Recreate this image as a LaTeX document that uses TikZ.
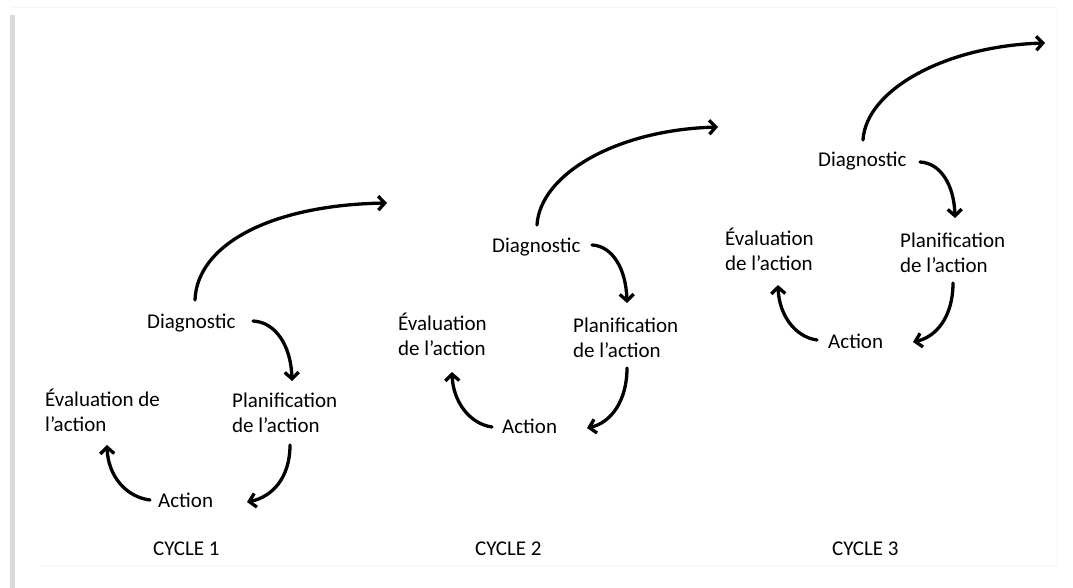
\documentclass[tikz,border=0pt]{standalone}
\usepackage{fontspec}
\setmainfont{Carlito}
\usetikzlibrary{arrows.meta}
\begin{document}
\begin{tikzpicture}[x=1pt,y=-1pt,
  lbl/.style={inner sep=0pt, anchor=base west, font=\fontsize{21}{25.5}\selectfont, align=left},
  arr/.style={line width=3.3pt, line cap=round, -{Straight Barb[length=6.5pt,width=14pt]}}]
\useasboundingbox (0,0) rectangle (1073,588);
\fill[white] (0,0) rectangle (1073,588);
% page shadow
\fill[gray!30] (10,15) rectangle (15,588);
\draw[gray!8, line width=1pt] (12,8) -- (1057,8);
\draw[gray!8, line width=1pt] (1057,8) -- (1057,565);
\draw[gray!6, line width=1pt] (40,565) -- (1057,565);
% cycle 1 (two-line nodes: base = baseline of the second line)
\node[lbl] (d1) at (147,328) {Diagnostic};
\node[lbl] (e1) at (45,431.5) {Évaluation de\\l’action};
\node[lbl] (p1) at (232,432.5) {Planification\\de l’action};
\node[lbl] (a1) at (158,507) {Action};
\node[lbl] (k1) at (153,555) {CYCLE 1};
\coordinate (d1s) at (253,321); \coordinate (p1e) at (292,381);
\coordinate (p1s) at (290,445); \coordinate (a1e) at (247,502);
\coordinate (a1s) at (150,500); \coordinate (e1e) at (107,445);
\coordinate (b1s) at (195,300); \coordinate (b1e) at (387,203);
\draw[arr] (d1s) .. controls (275,322) and (291,345) .. (p1e);
\draw[arr] (p1s) .. controls (290,478) and (272,497) .. (a1e);
\draw[arr] (a1s) .. controls (126,497) and (108,476) .. (e1e);
\draw[arr] (b1s) .. controls (197,245) and (270,205) .. (b1e);
% cycle 2
\node[lbl] (d2) at (492,252) {Diagnostic};
\node[lbl] (e2) at (398,355.5) {Évaluation\\de l’action};
\node[lbl] (p2) at (573,357.5) {Planification\\de l’action};
\node[lbl] (a2) at (502,433) {Action};
\node[lbl] (k2) at (475,555) {CYCLE 2};
\coordinate (d2s) at (592,245); \coordinate (p2e) at (627,303);
\coordinate (p2s) at (627,368); \coordinate (a2e) at (587,428);
\coordinate (a2s) at (492,427); \coordinate (e2e) at (452,372);
\coordinate (b2s) at (537,225); \coordinate (b2e) at (718,127);
\draw[arr] (d2s) .. controls (612,246) and (626,268) .. (p2e);
\draw[arr] (p2s) .. controls (627,402) and (610,423) .. (a2e);
\draw[arr] (a2s) .. controls (470,424) and (453,402) .. (e2e);
\draw[arr] (b2s) .. controls (540,175) and (615,130) .. (b2e);
% cycle 3
\node[lbl] (d3) at (818,167) {Diagnostic};
\node[lbl] (e3) at (725,270.5) {Évaluation\\de l’action};
\node[lbl] (p3) at (900,272.5) {Planification\\de l’action};
\node[lbl] (a3) at (828,348) {Action};
\node[lbl] (k3) at (832,555) {CYCLE 3};
\coordinate (d3s) at (920,162); \coordinate (p3e) at (955,218);
\coordinate (p3s) at (953,283); \coordinate (a3e) at (913,342);
\coordinate (a3s) at (817,340); \coordinate (e3e) at (778,285);
\coordinate (b3s) at (863,140); \coordinate (b3e) at (1045,43);
\draw[arr] (d3s) .. controls (940,163) and (954,184) .. (p3e);
\draw[arr] (p3s) .. controls (953,317) and (936,337) .. (a3e);
\draw[arr] (a3s) .. controls (795,337) and (779,315) .. (e3e);
\draw[arr] (b3s) .. controls (866,90) and (945,46) .. (b3e);
\end{tikzpicture}
\end{document}
